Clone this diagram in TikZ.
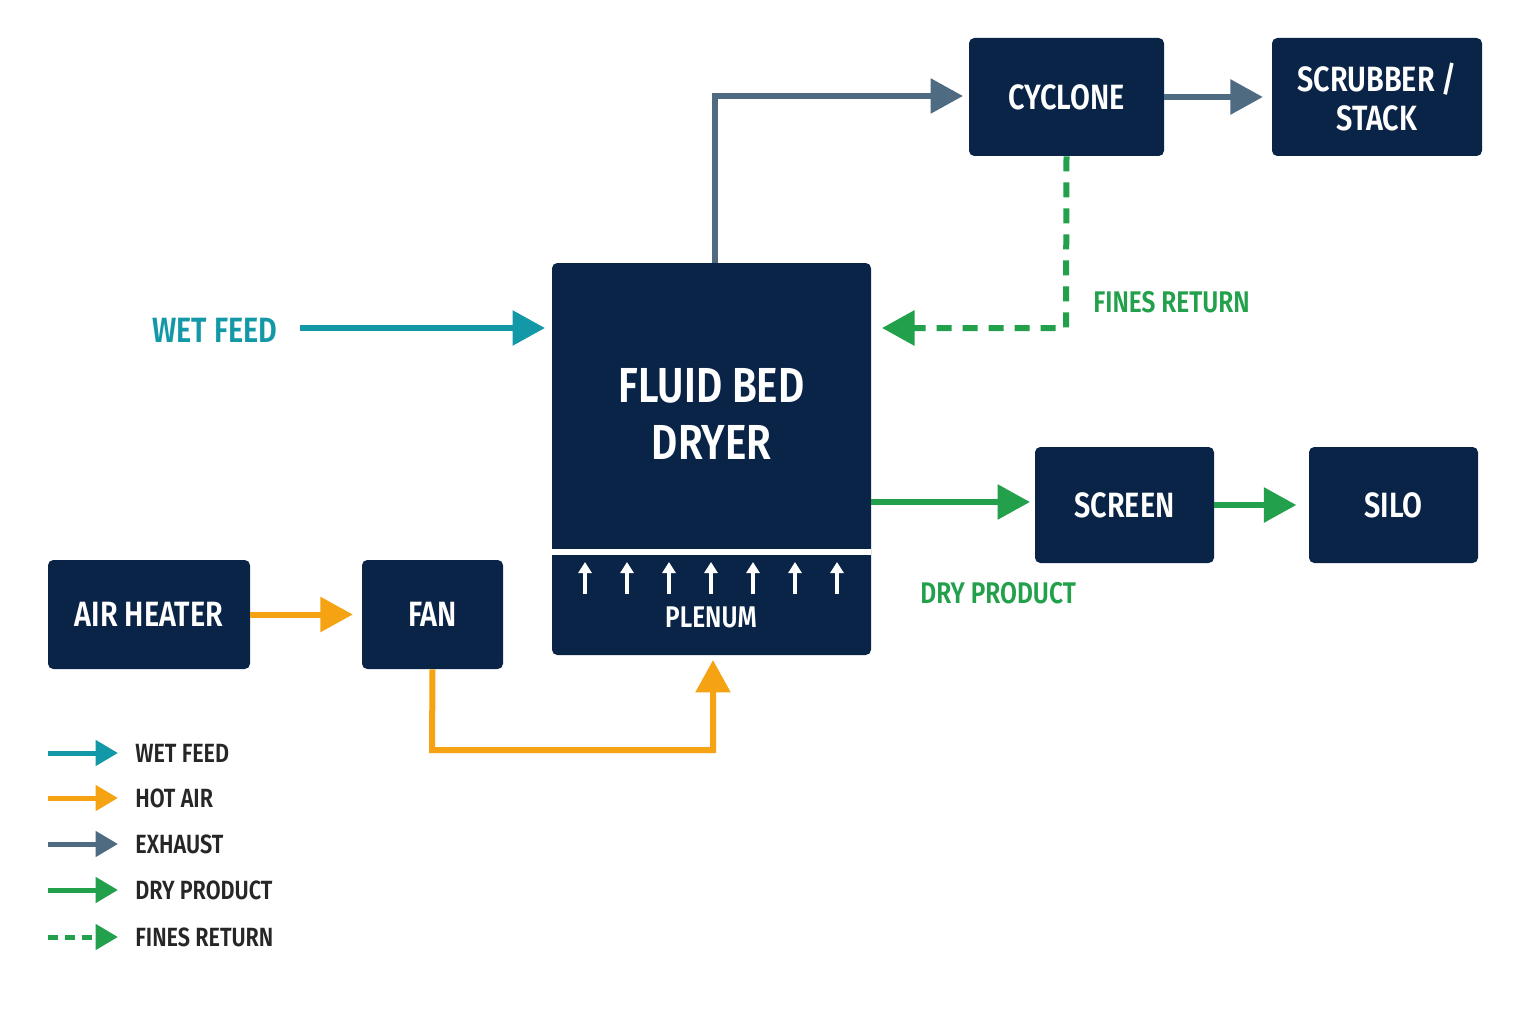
\documentclass[tikz,border=0pt]{standalone}
\usepackage{fontspec}
\setmainfont{Fira Sans}[FakeStretch=0.82,UprightFont=* SemiBold,BoldFont=* Bold]
\usetikzlibrary{arrows.meta}
\definecolor{navy}{HTML}{0A2447}
\definecolor{teal}{HTML}{1398A8}
\definecolor{orng}{HTML}{F5A312}
\definecolor{slate}{HTML}{4F6B82}
\definecolor{grn}{HTML}{22A04B}
\begin{document}
\begin{tikzpicture}[x=0.02cm,y=-0.02cm,
  box/.style={fill=navy,rounded corners=3pt,text=white,font=\fontsize{20}{22}\selectfont,align=center,inner sep=0pt},
  flow/.style={line width=0.12cm,-{Triangle[length=0.65cm,width=0.68cm]}},
  lbl/.style={font=\fontsize{17}{19}\selectfont,anchor=west,inner sep=0pt},
  leg/.style={font=\fontsize{15}{17}\selectfont,anchor=west,inner sep=0pt,text=black!85}]
\useasboundingbox (0,0) rectangle (1536,1024);
% boxes
\node[box,minimum width=195*0.02cm,minimum height=118*0.02cm] (cyc) at (1066.5,97) {CYCLONE};
\node[box,minimum width=210*0.02cm,minimum height=118*0.02cm] (scr) at (1377,97) {SCRUBBER /\\STACK};
\node[box,minimum width=179*0.02cm,minimum height=116*0.02cm] (screen) at (1124.5,505) {SCREEN};
\node[box,minimum width=169*0.02cm,minimum height=116*0.02cm] (silo) at (1393.5,505) {SILO};
\node[box,minimum width=202*0.02cm,minimum height=109*0.02cm] (heat) at (149,614.5) {AIR HEATER};
\node[box,minimum width=141*0.02cm,minimum height=109*0.02cm] (fan) at (432.5,614.5) {FAN};
\node[box,minimum width=319*0.02cm,minimum height=392*0.02cm] (dry) at (711.5,459) {};
\node[text=white,font=\fontsize{28}{32}\selectfont,align=center] (dryt) at (711.5,414) {FLUID BED\\DRYER};
\draw[white,line width=3pt] (552,552) -- (871,552);
\foreach \x [count=\i] in {585,627,669,711,753,795,837}
  \draw[white,line width=2.2pt,-{Triangle[length=0.22cm,width=0.26cm]}] (\x,594) -- (\x,562);
\node[text=white,font=\fontsize{17}{19}\selectfont] (plen) at (711,617) {PLENUM};
% coordinates
\coordinate (wfs) at (300,328);
\coordinate (wfe) at (545,328);
\coordinate (exs) at (715,263);
\coordinate (exc) at (715,96);
\coordinate (cyin) at (963,96);
\coordinate (fr1) at (1066,328);
\coordinate (frend) at (882,328);
\coordinate (dps) at (871,502);
\coordinate (dpe) at (1030,502);
\coordinate (f1) at (432,750);
\coordinate (f2) at (713,750);
\coordinate (pl) at (713,660);
% connectors
\draw[flow,teal] (wfs) -- (wfe);
\node[lbl,text=teal,font=\fontsize{20}{22}\selectfont] (wfl) at (152,330) {WET FEED};
\draw[flow,slate] (exs) -- (exc) -- (cyin);
\draw[flow,slate] (cyc.east) -- ([xshift=-5]scr.west);
\draw[flow,grn,dash pattern=on 0.3cm off 0.22cm] (cyc.south) -- (fr1) -- (frend);
\node[lbl,text=grn] (frl) at (1093,302) {FINES RETURN};
\draw[flow,grn] (dps) -- (dpe);
\node[lbl,text=grn] (dpl) at (920,593) {DRY PRODUCT};
\draw[flow,grn] (screen.east) -- ([xshift=-7]silo.west);
\draw[flow,orng] (heat.east) -- ([xshift=-5]fan.west);
\draw[flow,orng] (fan.south) -- (f1) -- (f2) -- (pl);
% legend
\foreach \c/\t/\y/\d in {teal/WET FEED/753/0, orng/HOT AIR/798/0, slate/EXHAUST/844/0, grn/DRY PRODUCT/890/0, grn/FINES RETURN/937/1}{
  \coordinate (ls\y) at (48,\y);
  \coordinate (le\y) at (118,\y);
  \ifnum\d=1
    \draw[\c,line width=0.1cm,dash pattern=on 0.2cm off 0.14cm,-{Triangle[length=0.45cm,width=0.5cm]}] (ls\y) -- (le\y);
  \else
    \draw[\c,line width=0.1cm,-{Triangle[length=0.45cm,width=0.5cm]}] (ls\y) -- (le\y);
  \fi
  \node[leg] (lt\y) at (135,\y) {\t};
}
\end{tikzpicture}
\end{document}
